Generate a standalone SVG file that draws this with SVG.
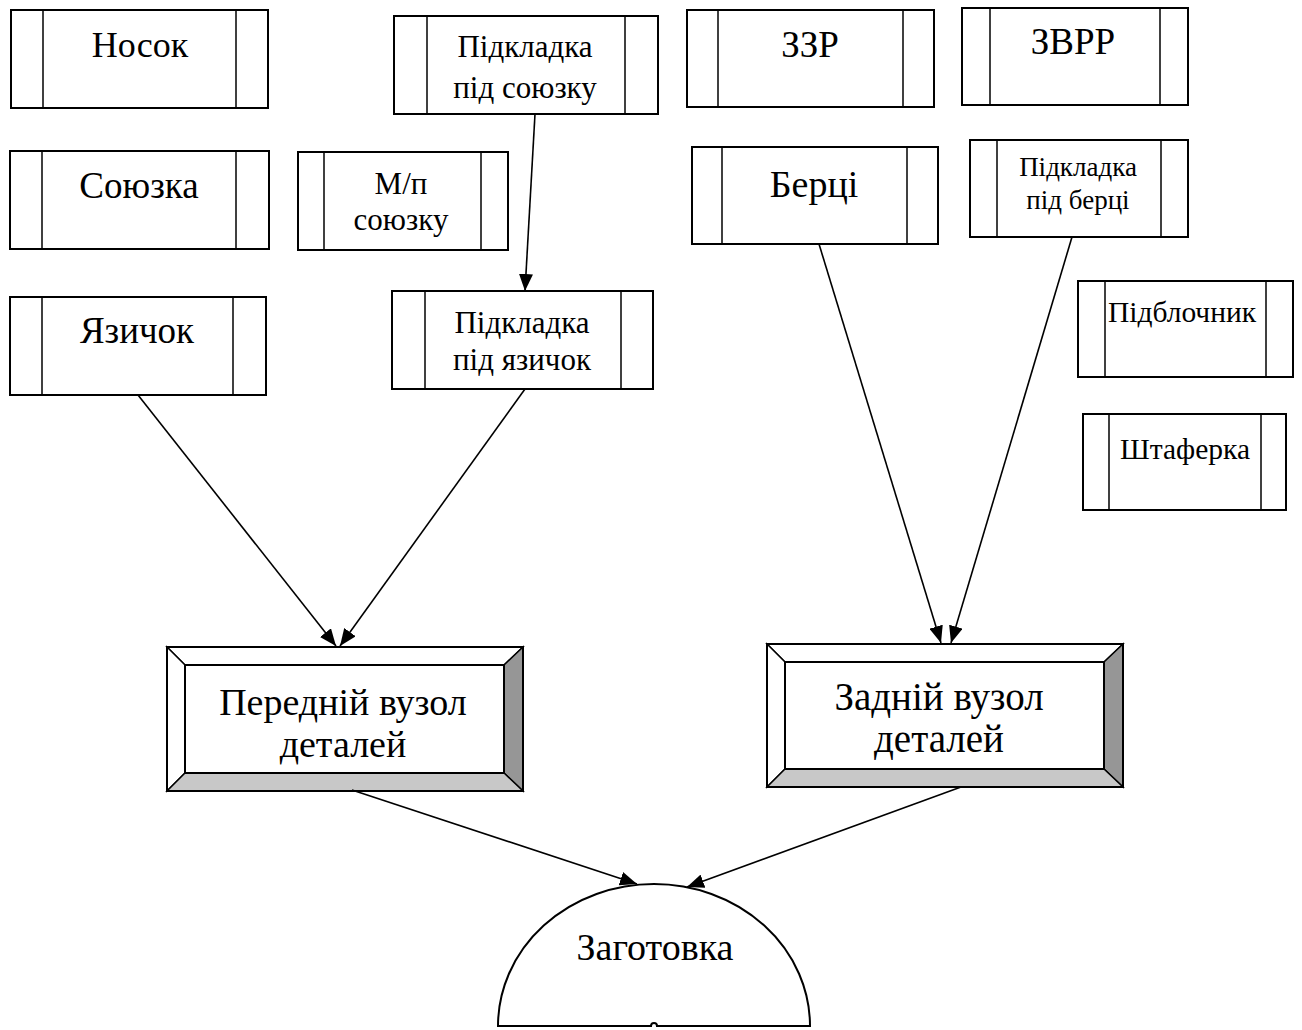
<svg xmlns="http://www.w3.org/2000/svg" width="1302" height="1030" viewBox="0 0 1302 1030">
<style>
.box{fill:#fff;stroke:#000;stroke-width:2}
.bar{stroke:#000;stroke-width:1.5}
.t{font-family:"Liberation Serif","Times New Roman",serif;fill:#000;text-anchor:middle}
.conn{stroke:#000;stroke-width:1.6;fill:none;marker-end:url(#ah)}
.bev{stroke:#000;stroke-width:1.5}
</style>
<defs>
<marker id="ah" viewBox="0 0 17 14" refX="17" refY="7" markerWidth="17" markerHeight="14" markerUnits="userSpaceOnUse" orient="auto">
<path d="M0,0 L17,7 L0,14 Z" fill="#000"/>
</marker>
</defs>
<rect width="1302" height="1030" fill="#fff"/>

<g id="nosok">
<rect class="box" x="11" y="10" width="257" height="98"/>
<line class="bar" x1="43" y1="10" x2="43" y2="108"/><line class="bar" x1="236" y1="10" x2="236" y2="108"/>
<text class="t" x="140" y="57" font-size="36">Носок</text>
</g>
<g id="soyuzka">
<rect class="box" x="10" y="151" width="259" height="98"/>
<line class="bar" x1="42" y1="151" x2="42" y2="249"/><line class="bar" x1="236" y1="151" x2="236" y2="249"/>
<text class="t" x="139" y="198" font-size="37">Союзка</text>
</g>
<g id="yazychok">
<rect class="box" x="10" y="297" width="256" height="98"/>
<line class="bar" x1="42" y1="297" x2="42" y2="395"/><line class="bar" x1="233" y1="297" x2="233" y2="395"/>
<text class="t" x="137" y="343" font-size="37">Язичок</text>
</g>
<g id="pidkladka-soyuzka">
<rect class="box" x="394" y="16" width="264" height="98"/>
<line class="bar" x1="427" y1="16" x2="427" y2="114"/><line class="bar" x1="625" y1="16" x2="625" y2="114"/>
<text class="t" x="525" y="57" font-size="31">Підкладка</text>
<text class="t" x="525" y="98" font-size="31">під союзку</text>
</g>
<g id="mp-soyuzku">
<rect class="box" x="298" y="152" width="210" height="98"/>
<line class="bar" x1="324" y1="152" x2="324" y2="250"/><line class="bar" x1="481" y1="152" x2="481" y2="250"/>
<text class="t" x="401" y="194" font-size="31">М/п</text>
<text class="t" x="401" y="230" font-size="31">союзку</text>
</g>
<g id="pidkladka-yazychok">
<rect class="box" x="392" y="291" width="261" height="98"/>
<line class="bar" x1="425" y1="291" x2="425" y2="389"/><line class="bar" x1="621" y1="291" x2="621" y2="389"/>
<text class="t" x="522" y="333" font-size="31">Підкладка</text>
<text class="t" x="522" y="370" font-size="31">під язичок</text>
</g>
<g id="zzr">
<rect class="box" x="687" y="10" width="247" height="97"/>
<line class="bar" x1="718" y1="10" x2="718" y2="107"/><line class="bar" x1="903" y1="10" x2="903" y2="107"/>
<text class="t" x="810" y="57" font-size="37">ЗЗР</text>
</g>
<g id="zvrr">
<rect class="box" x="962" y="8" width="226" height="97"/>
<line class="bar" x1="990" y1="8" x2="990" y2="105"/><line class="bar" x1="1160" y1="8" x2="1160" y2="105"/>
<text class="t" x="1073" y="54" font-size="37">ЗВРР</text>
</g>
<g id="bertsi">
<rect class="box" x="692" y="147" width="246" height="97"/>
<line class="bar" x1="722" y1="147" x2="722" y2="244"/><line class="bar" x1="907" y1="147" x2="907" y2="244"/>
<text class="t" x="814" y="197" font-size="38">Берці</text>
</g>
<g id="pidkladka-bertsi">
<rect class="box" x="970" y="140" width="218" height="97"/>
<line class="bar" x1="997" y1="140" x2="997" y2="237"/><line class="bar" x1="1161" y1="140" x2="1161" y2="237"/>
<text class="t" x="1078" y="176" font-size="27">Підкладка</text>
<text class="t" x="1078" y="209" font-size="27">під берці</text>
</g>
<g id="pidblochnyk">
<rect class="box" x="1078" y="281" width="215" height="96"/>
<line class="bar" x1="1105" y1="281" x2="1105" y2="377"/><line class="bar" x1="1266" y1="281" x2="1266" y2="377"/>
<text class="t" x="1182" y="322" font-size="29.5">Підблочник</text>
</g>
<g id="shtaferka">
<rect class="box" x="1083" y="414" width="203" height="96"/>
<line class="bar" x1="1109" y1="414" x2="1109" y2="510"/><line class="bar" x1="1261" y1="414" x2="1261" y2="510"/>
<text class="t" x="1185" y="459" font-size="29.5">Штаферка</text>
</g>

<g id="peredniy">
<polygon class="bev" points="167,647 523,647 504,665 185,665" fill="#fff"/>
<polygon class="bev" points="167,647 185,665 185,773 167,791" fill="#fff"/>
<polygon class="bev" points="523,647 523,791 504,773 504,665" fill="#969696"/>
<polygon class="bev" points="167,791 185,773 504,773 523,791" fill="#c8c8c8"/>
<rect x="167" y="647" width="356" height="144" fill="none" stroke="#000" stroke-width="2"/>
<rect x="185" y="665" width="319" height="108" fill="#fff" stroke="#000" stroke-width="2"/>
<text class="t" x="343" y="715" font-size="38">Передній вузол</text>
<text class="t" x="343" y="757" font-size="38">деталей</text>
</g>
<g id="zadniy">
<polygon class="bev" points="767,644 1123,644 1104,662 785,662" fill="#fff"/>
<polygon class="bev" points="767,644 785,662 785,769 767,787" fill="#fff"/>
<polygon class="bev" points="1123,644 1123,787 1104,769 1104,662" fill="#969696"/>
<polygon class="bev" points="767,787 785,769 1104,769 1123,787" fill="#c8c8c8"/>
<rect x="767" y="644" width="356" height="143" fill="none" stroke="#000" stroke-width="2"/>
<rect x="785" y="662" width="319" height="107" fill="#fff" stroke="#000" stroke-width="2"/>
<text class="t" x="939" y="710" font-size="39">Задній вузол</text>
<text class="t" x="939" y="752" font-size="39">деталей</text>
</g>
<g id="zagotovka">
<path d="M498,1026 A156,142 0 0 1 810,1026 L657,1026 A3,3 0 0 0 651,1026 Z" fill="#fff" stroke="#000" stroke-width="2"/>
<text class="t" x="655" y="960" font-size="38">Заготовка</text>
</g>

<g id="connectors">
<line class="conn" x1="535" y1="114" x2="525" y2="291"/>
<line class="conn" x1="138" y1="395" x2="336" y2="646"/>
<line class="conn" x1="525" y1="389" x2="340" y2="646"/>
<line class="conn" x1="819" y1="244" x2="941" y2="643"/>
<line class="conn" x1="1072" y1="237" x2="951" y2="643"/>
<line class="conn" x1="352" y1="790" x2="637" y2="884"/>
<line class="conn" x1="961" y1="787" x2="687" y2="887"/>
</g>
</svg>
